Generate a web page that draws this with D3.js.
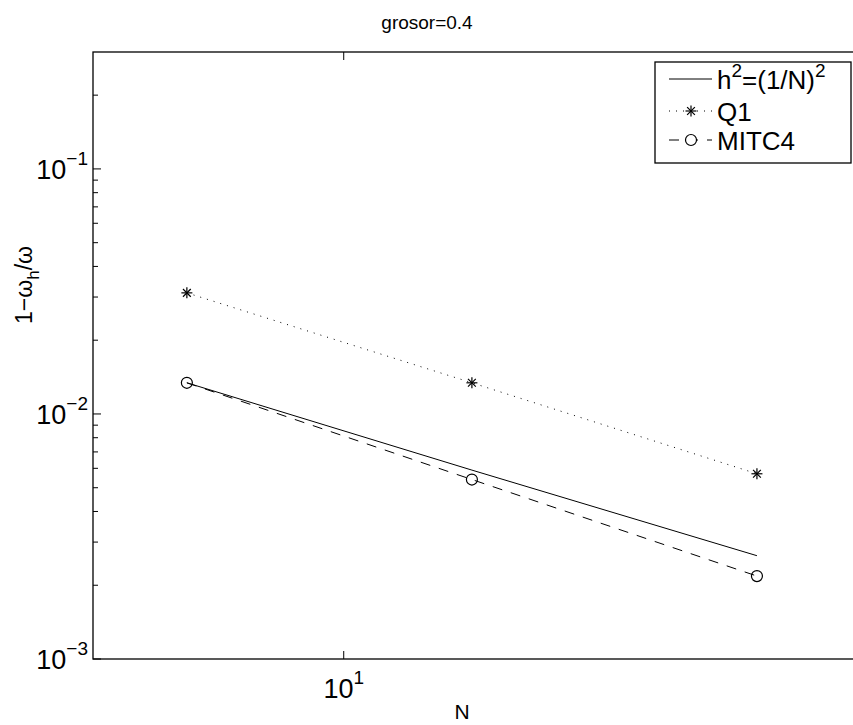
<!DOCTYPE html>
<html>
<head>
<meta charset="utf-8">
<script src="https://cdn.jsdelivr.net/npm/d3@7"></script>
<style>
  body { margin: 0; background: #fff; }
  svg { display: block; font-family: "Liberation Sans", Arial, sans-serif; }
</style>
</head>
<body>
<div id="chart"></div>
<script>
const svgWidth = 853,
      svgHeight = 725,
      margin = {top: 52, right: -45, bottom: 66, left: 93},
      width = svgWidth - margin.left - margin.right,
      height = svgHeight - margin.top - margin.bottom;

// data
const N = [8, 12, 18];
const h2 = [0.0134, 0.0059, 0.00264];
const q1 = [0.0312, 0.0134, 0.0057];
const mitc4 = [0.0134, 0.0054, 0.00218];
const xTicks = [10];
const yTicks = [1e-3, 1e-2, 1e-1];
const legendLabels = ["h2", "Q1", "MITC4"];

let scaleX = d3.scaleLog().domain([7, 22]).range([0, width]),
    scaleY = d3.scaleLog().domain([1e-3, 0.3]).range([height, 0]);

let svg = d3.select("#chart")
  .append("svg")
  .attr("width", svgWidth)
  .attr("height", svgHeight);

let g = svg.append("g")
  .attr("transform", "translate(" + margin.left + "," + margin.top + ")");

// minor y ticks 2..9 x 10^k
let minorY = [];
[1e-3, 1e-2, 1e-1].forEach(function(d) {
  for (let k = 2; k <= 9; k++) if (d * k <= 0.3) minorY.push(d * k);
});

// ticks (inside)
g.selectAll("line.ymajor")
  .data(yTicks).enter().append("line")
  .attr("x1", 0).attr("x2", 8)
  .attr("y1", d => scaleY(d)).attr("y2", d => scaleY(d))
  .attr("stroke", "#000");
g.selectAll("line.yminor")
  .data(minorY).enter().append("line")
  .attr("x1", 0).attr("x2", 5)
  .attr("y1", d => scaleY(d)).attr("y2", d => scaleY(d))
  .attr("stroke", "#000");
g.selectAll("line.xtop")
  .data(xTicks).enter().append("line")
  .attr("x1", d => scaleX(d)).attr("x2", d => scaleX(d))
  .attr("y1", 0).attr("y2", 8)
  .attr("stroke", "#000");
g.selectAll("line.xbot")
  .data(xTicks).enter().append("line")
  .attr("x1", d => scaleX(d)).attr("x2", d => scaleX(d))
  .attr("y1", height).attr("y2", height - 8)
  .attr("stroke", "#000");

// axes box
g.append("rect")
  .attr("width", width)
  .attr("height", height)
  .attr("fill", "none")
  .attr("stroke", "#000")
  .attr("stroke-width", 1.3);

// y tick labels 10^k
let yLab = g.selectAll("text.ylab")
  .data(yTicks).enter().append("text")
  .attr("x", -5)
  .attr("y", d => scaleY(d) + 10)
  .attr("text-anchor", "end")
  .attr("font-size", 27);
yLab.append("tspan").text("10");
yLab.append("tspan")
  .attr("dy", -14)
  .attr("font-size", 19)
  .text(d => "\u2212" + Math.round(-Math.log10(d)));

// x tick labels
let xLab = g.selectAll("text.xlab")
  .data(xTicks).enter().append("text")
  .attr("x", d => scaleX(d))
  .attr("y", height + 39)
  .attr("text-anchor", "middle")
  .attr("font-size", 27);
xLab.append("tspan").text("10");
xLab.append("tspan")
  .attr("dy", -14)
  .attr("font-size", 19)
  .text(d => Math.round(Math.log10(d)));

// axis labels + title
svg.append("text")
  .attr("x", 462).attr("y", 719)
  .attr("text-anchor", "middle")
  .attr("font-size", 21)
  .text("N");

let yl = svg.append("text")
  .attr("transform", "translate(32,285)rotate(-90)")
  .attr("text-anchor", "middle")
  .attr("font-size", 23);
yl.append("tspan").text("1\u2212\u03c9");
yl.append("tspan").attr("dy", 7).attr("font-size", 17).text("h");
yl.append("tspan").attr("dy", -7).text("/\u03c9");

svg.append("text")
  .attr("x", 427).attr("y", 29)
  .attr("text-anchor", "middle")
  .attr("font-size", 19)
  .text("grosor=0.4");

// series
let line = d3.line()
  .x(d => scaleX(d[0]))
  .y(d => scaleY(d[1]));

let plot = g.append("g");

plot.append("path")
  .datum(d3.zip(N, h2))
  .attr("d", line)
  .attr("fill", "none")
  .attr("stroke", "#000")
  .attr("stroke-width", 1);

plot.append("path")
  .datum(d3.zip(N, q1))
  .attr("d", line)
  .attr("fill", "none")
  .attr("stroke", "#000")
  .attr("stroke-width", 1)
  .attr("stroke-dasharray", "1,6");

plot.append("path")
  .datum(d3.zip(N, mitc4))
  .attr("d", line)
  .attr("fill", "none")
  .attr("stroke", "#000")
  .attr("stroke-width", 1)
  .attr("stroke-dasharray", "10,9");

function star(sel, x, y, r) {
  [0, 45, 90, 135].forEach(function(a) {
    let rad = a * Math.PI / 180;
    sel.append("line")
      .attr("x1", x - r * Math.cos(rad)).attr("y1", y - r * Math.sin(rad))
      .attr("x2", x + r * Math.cos(rad)).attr("y2", y + r * Math.sin(rad))
      .attr("stroke", "#000").attr("stroke-width", 1.2);
  });
}

d3.zip(N, q1).forEach(d => star(plot, scaleX(d[0]), scaleY(d[1]), 5.5));

plot.selectAll("circle.m")
  .data(d3.zip(N, mitc4)).enter().append("circle")
  .attr("cx", d => scaleX(d[0]))
  .attr("cy", d => scaleY(d[1]))
  .attr("r", 5.5)
  .attr("fill", "none")
  .attr("stroke", "#000")
  .attr("stroke-width", 1.2);

// legend
let leg = svg.append("g").attr("transform", "translate(655,62)");
leg.append("rect")
  .attr("width", 196).attr("height", 101)
  .attr("fill", "#fff").attr("stroke", "#000").attr("stroke-width", 1.3);

let rowY = [17, 49, 78];
leg.append("line").attr("x1", 14).attr("x2", 57).attr("y1", rowY[0]).attr("y2", rowY[0])
  .attr("stroke", "#000");
leg.append("line").attr("x1", 14).attr("x2", 57).attr("y1", rowY[1]).attr("y2", rowY[1])
  .attr("stroke", "#000").attr("stroke-dasharray", "1,6");
star(leg, 36, rowY[1], 5.5);
leg.append("line").attr("x1", 14).attr("x2", 57).attr("y1", rowY[2]).attr("y2", rowY[2])
  .attr("stroke", "#000").attr("stroke-dasharray", "10,9");
leg.append("circle").attr("cx", 36).attr("cy", rowY[2]).attr("r", 5.5)
  .attr("fill", "#fff").attr("stroke", "#000").attr("stroke-width", 1.2);

let t0 = leg.append("text").attr("x", 62).attr("y", rowY[0] + 10).attr("font-size", 26);
t0.append("tspan").text("h");
t0.append("tspan").attr("dy", -12).attr("font-size", 19).text("2");
t0.append("tspan").attr("dy", 12).text("=(1/N)");
t0.append("tspan").attr("dy", -12).attr("font-size", 19).text("2");
leg.append("text").attr("x", 62).attr("y", rowY[1] + 10).attr("font-size", 26).text(legendLabels[1]);
leg.append("text").attr("x", 62).attr("y", rowY[2] + 10).attr("font-size", 26).text(legendLabels[2]);
</script>
</body>
</html>
